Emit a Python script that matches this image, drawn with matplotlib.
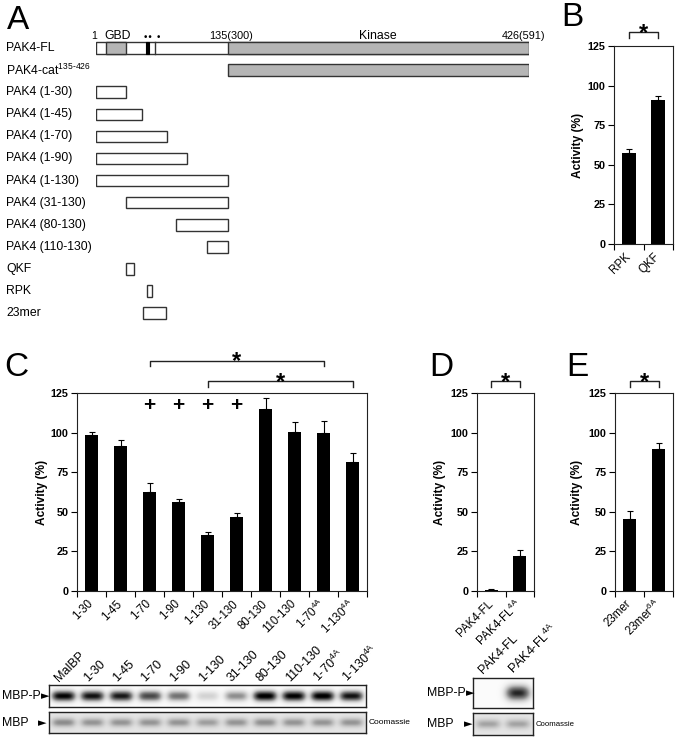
import matplotlib
matplotlib.use('Agg')
import matplotlib.pyplot as plt
import numpy as np
from matplotlib.patches import Rectangle
from matplotlib.transforms import blended_transform_factory

plt.rcParams['font.family'] = ['Liberation Sans', 'DejaVu Sans']
plt.rcParams['mathtext.fontset'] = 'custom'
plt.rcParams['mathtext.rm'] = 'Liberation Sans'
plt.rcParams['mathtext.it'] = 'Liberation Sans'
plt.rcParams['mathtext.bf'] = 'Liberation Sans:bold'

W, H = 676, 745

# ---- data ----
# A: construct map (residue numbers)
fl_length = 426
gbd = (11, 30)
motif = (50, 52)
marker_res = 58
kinase = (131, 426)
construct_names = ['PAK4 (1-30)', 'PAK4 (1-45)', 'PAK4 (1-70)', 'PAK4 (1-90)',
                   'PAK4 (1-130)', 'PAK4 (31-130)', 'PAK4 (80-130)',
                   'PAK4 (110-130)', 'QKF', 'RPK', '23mer']
construct_start = [1, 1, 1, 1, 1, 31, 80, 110, 31, 51, 47]
construct_end = [30, 45, 70, 90, 130, 130, 130, 130, 37, 55, 69]

# B
b_labels = ['RPK', 'QKF']
b_vals = [57.2, 90.9]
b_err = [2.6, 2.5]

# C
c_labels = ['1-30', '1-45', '1-70', '1-90', '1-130', '31-130', '80-130',
            '110-130', r'1-70$^{\mathregular{4A}}$', r'1-130$^{\mathregular{4A}}$']
c_vals = [98.6, 91.3, 62.8, 55.9, 35.2, 46.6, 114.9, 100.5, 99.5, 81.4]
c_err = [1.5, 4.2, 5.3, 2.1, 1.9, 2.5, 6.9, 6.0, 7.8, 5.7]
c_plus = [2, 3, 4, 5]
c_brackets = [(2, 8), (4, 9)]

# D
d_labels = ['PAK4-FL', r'PAK4-FL$^{\mathregular{4A}}$']
d_vals = [0.8, 22.3]
d_err = [0.3, 3.6]

# E
e_labels = ['23mer', r'23mer$^{\mathregular{6A}}$']
e_vals = [45.7, 89.8]
e_err = [4.6, 3.6]

# blots: band darkness per lane
c_lanes = ['MalBP'] + c_labels
c_mbpp = [0.97, 0.92, 0.9, 0.75, 0.6, 0.25, 0.5, 1.0, 0.98, 1.0, 0.92]
c_mbp = [0.36, 0.33, 0.33, 0.33, 0.33, 0.3, 0.33, 0.35, 0.33, 0.33, 0.33]
d_lanes = d_labels
d_mbpp = [0.0, 0.85]
d_mbp = [0.28, 0.28]


def px_rect(x0, y0, x1, y1):
    return [x0 / W, 1 - y1 / H, (x1 - x0) / W, (y1 - y0) / H]


def fxy(x, y):
    return x / W, 1 - y / H


fig = plt.figure(figsize=(6.76, 7.45), dpi=100)

# panel letters
for letter, x, y in [('A', 7, 29), ('B', 561, 26), ('C', 4, 376),
                     ('D', 429, 376), ('E', 566, 376)]:
    fig.text(*fxy(x, y), letter, fontsize=24, va='baseline')

# ---- A ----
ax_a = fig.add_axes(px_rect(96, 26, 96 + 426 * 1.0155, 326))
ax_a.set_xlim(0, fl_length)
ax_a.set_ylim((326 - 48) / 22.1, (26 - 48) / 22.1)
ax_a.axis('off')
lab_tr = blended_transform_factory(fig.transFigure, ax_a.transData)
edge = '#333333'
bh = 0.52

# full length
ax_a.add_patch(Rectangle((0, -bh / 2), fl_length, bh, fc='white', ec=edge, lw=1))
ax_a.add_patch(Rectangle((gbd[0] - 1, -bh / 2), gbd[1] - gbd[0] + 1, bh,
                         fc='#b5b5b5', ec=edge, lw=1))
ax_a.add_patch(Rectangle((motif[0] - 1, -bh / 2), motif[1] - motif[0] + 1, bh,
                         fc='black', ec='black', lw=0.8))
ax_a.plot([marker_res, marker_res], [-bh / 2, bh / 2], color=edge, lw=1)
ax_a.add_patch(Rectangle((kinase[0] - 1, -bh / 2), kinase[1] - kinase[0] + 1, bh,
                         fc='#b5b5b5', ec=edge, lw=1))
# catalytic only
ax_a.add_patch(Rectangle((kinase[0] - 1, 1 - bh / 2), kinase[1] - kinase[0] + 1, bh,
                         fc='#b5b5b5', ec=edge, lw=1))

ty = -0.42
ax_a.text(-2, ty, '1', fontsize=7.5, ha='center', va='baseline')
ax_a.text(sum(gbd) / 2 + 0.5, ty, 'GBD', fontsize=8.8, ha='center', va='baseline')
ax_a.text(motif[0] + 1, ty + 0.05, '••', fontsize=6.5, ha='center', va='baseline',
          family='DejaVu Sans')
ax_a.text(marker_res + 3, ty + 0.05, '•', fontsize=6.5, ha='center', va='baseline',
          family='DejaVu Sans')
ax_a.text(133, ty, '135(300)', fontsize=7.8, ha='center', va='baseline')
ax_a.text(278, ty, 'Kinase', fontsize=8.8, ha='center', va='baseline')
ax_a.text(442, ty, '426(591)', fontsize=7.8, ha='right', va='baseline', clip_on=False)

ax_a.text(6 / W, 0, 'PAK4-FL', transform=lab_tr, fontsize=8.8, va='center')
ax_a.text(6 / W, 1, r'PAK4-cat$^{\mathregular{135‐426}}$', transform=lab_tr,
          fontsize=8.8, va='center')
for i, (name, s, e) in enumerate(zip(construct_names, construct_start, construct_end)):
    row = i + 2
    ax_a.add_patch(Rectangle((s - 1, row - bh / 2), e - s + 1, bh,
                             fc='white', ec=edge, lw=1))
    ax_a.text(6 / W, row, name, transform=lab_tr, fontsize=8.8, va='center')


# ---- bar panels ----
def bar_panel(rect, labels, vals, errs, label_right):
    ax = fig.add_axes(px_rect(*rect))
    n = len(vals)
    x = np.arange(n)
    ax.bar(x, vals, width=0.47, color='black')
    ax.errorbar(x, vals, yerr=[np.zeros(n), errs], fmt='none', ecolor='black',
                elinewidth=0.8, capsize=2, capthick=0.8)
    ax.set_xlim(-0.5, n - 0.5)
    ax.set_ylim(0, 125)
    ax.set_yticks(range(0, 126, 25))
    ax.set_xticks(x)
    ax.set_xticklabels(labels, rotation=45, ha='right', va='center',
                       rotation_mode='anchor', fontsize=8.3)
    ax.set_xticks(np.arange(-0.5, n), minor=True)
    ax.tick_params(axis='x', which='major', length=0, pad=8)
    ax.tick_params(axis='x', which='minor', length=4, width=0.8, direction='out')
    ax.tick_params(axis='y', length=4.5, width=0.8, labelsize=7.8, pad=1.5)
    for t in ax.get_yticklabels():
        t.set_fontweight('bold')
    ax.set_ylabel('Activity (%)', fontsize=8.6, fontweight='bold')
    ax.yaxis.set_label_coords((label_right - rect[0]) / (rect[2] - rect[0]), 0.5)
    for s in ax.spines.values():
        s.set_linewidth(0.8)
        s.set_color('#222222')
    return ax


def bracket(ax, i0, i1, top, leg, star):
    ax.plot([i0, i0, i1, i1], [top - leg, top, top, top - leg], color='#222222',
            lw=1, clip_on=False)
    ax.text((i0 + i1) / 2, star, '*', ha='center', va='baseline', fontsize=17,
            fontweight='bold', clip_on=False)


ax_b = bar_panel((614, 46, 673, 244), b_labels, b_vals, b_err, 584)
bracket(ax_b, 0, 1, 133.8, 3.8, 129.0)

ax_c = bar_panel((77, 393, 367, 591), c_labels, c_vals, c_err, 48)
for i in c_plus:
    ax_c.text(i, 117, '+', ha='center', va='center', fontsize=15, fontweight='bold')
bracket(ax_c, *c_brackets[0], 145.2, 3.2, 141.0)
bracket(ax_c, *c_brackets[1], 132.6, 3.8, 127.6)

ax_d = bar_panel((477, 393, 534, 591), d_labels, d_vals, d_err, 446)
bracket(ax_d, 0, 1, 132.6, 3.8, 127.6)

ax_e = bar_panel((615, 393, 673, 591), e_labels, e_vals, e_err, 583)
bracket(ax_e, 0, 1, 132.6, 3.8, 127.6)


# ---- blots ----
def blot(rect, levels, bg, sx, sy, power=4):
    ax = fig.add_axes(px_rect(*rect))
    n = len(levels)
    xs = np.linspace(-0.5, n - 0.5, 60 * n)
    ys = np.linspace(-0.5, 0.5, 80)
    X, Y = np.meshgrid(xs, ys)
    img = np.full(X.shape, bg)
    for i, lv in enumerate(levels):
        img = img + lv * np.exp(-np.abs((X - i) / sx) ** power - (Y / sy) ** 2)
    ax.imshow(np.clip(img, 0, 1), cmap='Greys', vmin=0, vmax=1,
              extent=(-0.5, n - 0.5, -0.5, 0.5), aspect='auto',
              interpolation='bilinear')
    ax.set_xlim(-0.5, n - 0.5)
    ax.set_xticks([])
    ax.set_yticks([])
    for s in ax.spines.values():
        s.set_linewidth(1.0)
        s.set_color('#222222')
    return ax


def lane_labels(ax, labels):
    tr = blended_transform_factory(ax.transData, ax.transAxes)
    for i, lab in enumerate(labels):
        ax.text(i - 0.15, 1.12, lab, transform=tr, rotation=45, ha='left',
                va='baseline', rotation_mode='anchor', fontsize=9, clip_on=False)


bc1 = blot((49, 685, 366, 707), c_mbpp, 0.03, 0.42, 0.25)
blot((49, 712, 366, 733), c_mbp, 0.18, 0.42, 0.22)
lane_labels(bc1, c_lanes)

bd1 = blot((473, 678, 533, 708), d_mbpp, 0.03, 0.42, 0.26, power=3)
blot((473, 713, 533, 735), d_mbp, 0.18, 0.42, 0.22)
lane_labels(bd1, d_lanes)

for x0, ytop, ybot, arrow_x in [(2, 696, 723, 38), (427, 693, 724, 464)]:
    fig.text(*fxy(x0, ytop), 'MBP-P', fontsize=8.8, va='center')
    fig.text(*fxy(x0 + 39, ytop), '►', fontsize=8, va='center', family='DejaVu Sans')
    fig.text(*fxy(x0, ybot), 'MBP', fontsize=8.8, va='center')
    fig.text(*fxy(arrow_x, ybot), '►', fontsize=8, va='center', family='DejaVu Sans')
fig.text(*fxy(369, 723), 'Coomassie', fontsize=6, va='center')
fig.text(*fxy(536, 725), 'Coomassie', fontsize=5.6, va='center')

fig.savefig('out.png', dpi=100)
